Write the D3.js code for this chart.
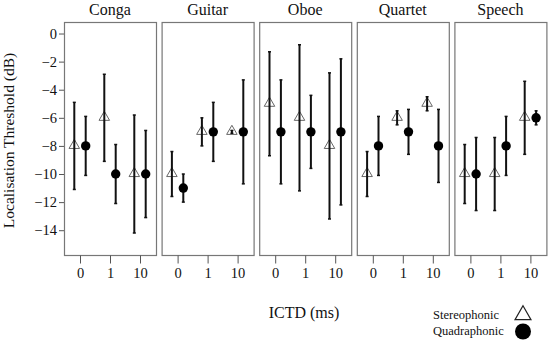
<!DOCTYPE html>
<html>
<head>
<meta charset="utf-8">
<script src="https://cdn.jsdelivr.net/npm/d3@7"></script>
<style>
  body { margin: 0; background: #fff; }
</style>
</head>
<body>
<div id="chart"></div>
<script>
var width = 550;
var height = 341;
var serif = "'Liberation Serif', 'Times New Roman', 'DejaVu Serif', serif";

// data
var instruments = ["Conga", "Guitar", "Oboe", "Quartet", "Speech"];
var ictd = ["0", "1", "10"];
var yTicks = [0, -2, -4, -6, -8, -10, -12, -14];

// mean and error, one row per instrument, one value per ICTD
var stereoMean = [[-8, -6, -10], [-10, -7, -7], [-5, -6, -8], [-10, -6, -5], [-10, -10, -6]];
var stereoErr  = [[3.1, 3.1, 4.2], [1.6, 1.0, 0.1], [3.7, 5.2, 5.2], [1.6, 0.5, 0.5], [2.1, 2.6, 2.6]];
var quadMean   = [[-8, -10, -10], [-11, -7, -7], [-7, -7, -7], [-8, -7, -8], [-10, -8, -6]];
var quadErr    = [[2.1, 2.1, 3.1], [1.0, 2.1, 3.7], [3.7, 2.6, 5.2], [2.1, 1.6, 2.6], [2.6, 2.1, 0.5]];

var margin = {top: 22, left: 64, bottom: 86};
var panelW = 92, gap = 5.6;
var plotBottom = height - margin.bottom;

var svg = d3.select("#chart")
  .append("svg")
    .attr("width", width)
    .attr("height", height);

var y = d3.scaleLinear()
  .domain([-15.8, 0.82])
  .range([plotBottom + 0.5, margin.top]);

var x = d3.scalePoint()
  .domain(ictd)
  .range([16, 76]);

var off = 5.7;
var tri = d3.symbol().type(d3.symbolTriangle).size(48);

// y axis
var yAxis = svg.append("g")
  .attr("transform", "translate(" + margin.left + ",0)")
  .call(d3.axisLeft(y).tickValues(yTicks).tickSize(5).tickPadding(2).tickFormat(d3.format("d")));
yAxis.select(".domain").remove();
yAxis.selectAll("line").attr("stroke", "#555");
yAxis.selectAll("text").style("font-family", serif).style("font-size", "14.5px").attr("fill", "#111");

svg.append("text")
  .attr("transform", "translate(14," + (margin.top + (plotBottom - margin.top) / 2 + 2) + ") rotate(-90)")
  .attr("text-anchor", "middle")
  .style("font-family", serif).style("font-size", "15.5px")
  .attr("fill", "#111")
  .text("Localisation Threshold (dB)");

instruments.forEach(function(name, k) {
  var px = margin.left + k * (panelW + gap);
  var g = svg.append("g").attr("transform", "translate(" + px + ",0)");

  g.append("rect")
    .attr("x", 0.5).attr("y", margin.top + 0.5)
    .attr("width", panelW).attr("height", plotBottom - margin.top)
    .attr("fill", "none").attr("stroke", "#777").attr("stroke-width", 1.2);

  g.append("text")
    .attr("x", panelW / 2).attr("y", 15)
    .attr("text-anchor", "middle")
    .style("font-family", serif).style("font-size", "16px")
    .attr("fill", "#111")
    .text(name);

  var xa = g.append("g")
    .attr("transform", "translate(0," + (plotBottom + 0.5) + ")")
    .call(d3.axisBottom(x).tickSize(8).tickPadding(4));
  xa.select(".domain").remove();
  xa.selectAll("line").attr("stroke", "#555");
  xa.selectAll("text").style("font-family", serif).style("font-size", "14.5px").attr("fill", "#111");

  var rows = [];
  ictd.forEach(function(t, i) {
    rows.push({type: "s", cx: x(t) - off, m: stereoMean[k][i], e: stereoErr[k][i]});
    rows.push({type: "q", cx: x(t) + off, m: quadMean[k][i], e: quadErr[k][i]});
  });

  // triangles first, bars over them
  g.selectAll(".tri").data(rows.filter(function(d) { return d.type == "s"; }))
    .enter().append("path")
      .attr("d", tri)
      .attr("transform", function(d) { return "translate(" + d.cx + "," + (y(d.m) - 0.5) + ")"; })
      .attr("fill", "#fff").attr("stroke", "#666").attr("stroke-width", 1);

  g.selectAll(".bar").data(rows)
    .enter().append("line")
      .attr("x1", function(d) { return d.cx; }).attr("x2", function(d) { return d.cx; })
      .attr("y1", function(d) { return y(d.m + d.e); })
      .attr("y2", function(d) { return y(d.m - d.e); })
      .attr("stroke", "#111").attr("stroke-width", 2);

  ["top", "bot"].forEach(function(w) {
    g.selectAll(".cap" + w).data(rows)
      .enter().append("line")
        .attr("x1", function(d) { return d.cx - 1.5; }).attr("x2", function(d) { return d.cx + 1.5; })
        .attr("y1", function(d) { return y(w == "top" ? d.m + d.e : d.m - d.e); })
        .attr("y2", function(d) { return y(w == "top" ? d.m + d.e : d.m - d.e); })
        .attr("stroke", "#111").attr("stroke-width", 1.5);
  });

  g.selectAll(".dot").data(rows.filter(function(d) { return d.type == "q"; }))
    .enter().append("circle")
      .attr("cx", function(d) { return d.cx; })
      .attr("cy", function(d) { return y(d.m); })
      .attr("r", 4.7)
      .attr("fill", "#000");
});

svg.append("text")
  .attr("x", 304).attr("y", 318)
  .attr("text-anchor", "middle")
  .style("font-family", serif).style("font-size", "16px")
  .attr("fill", "#111")
  .text("ICTD (ms)");

// legend
svg.append("text")
  .attr("x", 433).attr("y", 319)
  .style("font-family", serif).style("font-size", "12.5px")
  .attr("fill", "#111")
  .text("Stereophonic");
svg.append("text")
  .attr("x", 433).attr("y", 335)
  .style("font-family", serif).style("font-size", "12.5px")
  .attr("fill", "#111")
  .text("Quadraphonic");
svg.append("path")
  .attr("d", d3.symbol().type(d3.symbolTriangle).size(110))
  .attr("transform", "translate(523,315)")
  .attr("fill", "#fff").attr("stroke", "#222").attr("stroke-width", 1.2);
svg.append("circle")
  .attr("cx", 523).attr("cy", 331.5).attr("r", 8)
  .attr("fill", "#000");
</script>
</body>
</html>
